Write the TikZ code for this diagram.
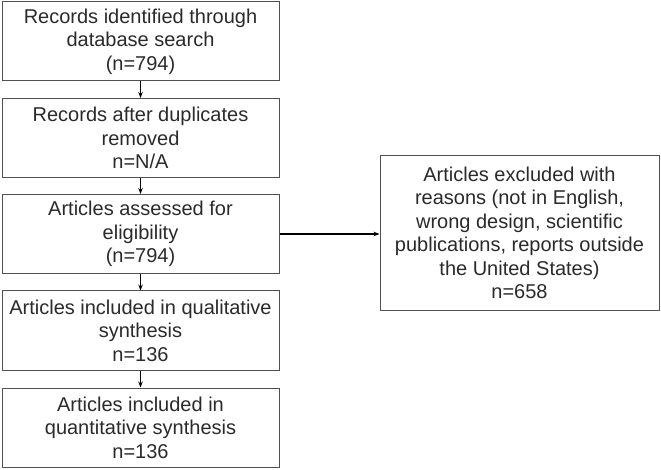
\documentclass[tikz,border=0pt]{standalone}
\usepackage{fontspec}
\setmainfont{Liberation Sans}
\usepackage{tikz}
\usetikzlibrary{positioning,arrows.meta}

\definecolor{boxline}{HTML}{505050}
\definecolor{boxtext}{HTML}{2A2A2A}

\begin{document}
\begin{tikzpicture}[x=1pt,y=-1pt,
	stagebox/.style={draw=boxline, line width=1pt, text=boxtext, align=center, inner sep=0pt,
		minimum width=277pt, minimum height=79pt, font=\fontsize{20}{23.5}\selectfont},
	exclbox/.style={stagebox, minimum width=279pt, minimum height=154pt},
	flow/.style={-{Stealth[length=6pt,width=4.5pt]}, line width=1.3pt}]
\useasboundingbox (0,0) rectangle (661,470);

\node[stagebox] (ident) at (140.5,41.5) {Records identified through\\database search\\(n=794)};
\node[stagebox] (dupl) at (140.5,138) {Records after duplicates\\removed\\n=N/A};
\node[stagebox] (elig) at (140.5,234) {Articles assessed for\\eligibility\\(n=794)};
\node[stagebox] (qual) at (140.5,330.5) {Articles included in qualitative\\synthesis\\n=136};
\node[stagebox] (quant) at (140.5,427.5) {Articles included in\\quantitative synthesis\\n=136};

		\node[exclbox] (excl) at (519.5,233) {Articles excluded with\\reasons (not in English,\\wrong design, scientific\\publications, reports outside\\the United States)\\n=658};

\draw[flow] (ident) -- (dupl);
\draw[flow] (dupl) -- (elig);
\draw[flow] (elig) -- (qual);
\draw[flow] (qual) -- (quant);
\draw[flow] (elig.east) -- (elig.east -| excl.west);

\end{tikzpicture}
\end{document}
